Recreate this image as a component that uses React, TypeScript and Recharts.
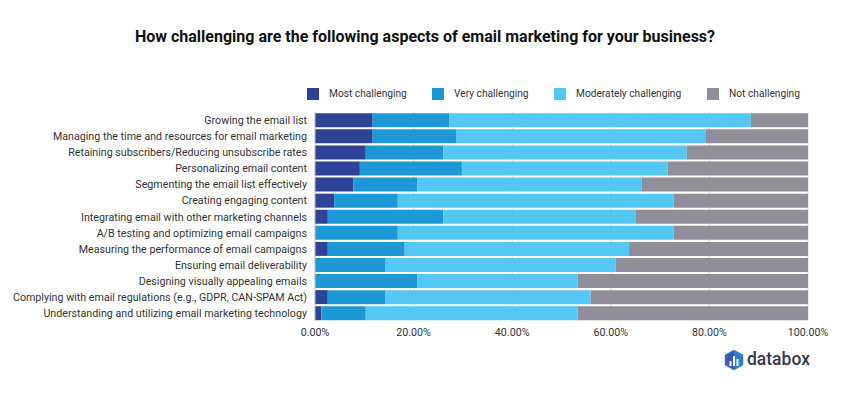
import { BarChart, Bar, XAxis, YAxis, CartesianGrid, Legend } from "recharts";

const categories = [
  "Growing the email list",
  "Managing the time and resources for email marketing",
  "Retaining subscribers/Reducing unsubscribe rates",
  "Personalizing email content",
  "Segmenting the email list effectively",
  "Creating engaging content",
  "Integrating email with other marketing channels",
  "A/B testing and optimizing email campaigns",
  "Measuring the performance of email campaigns",
  "Ensuring email deliverability",
  "Designing visually appealing emails",
  "Complying with email regulations (e.g., GDPR, CAN-SPAM Act)",
  "Understanding and utilizing email marketing technology",
];

const most = [11.7, 11.7, 10.3, 9.1, 7.8, 3.9, 2.6, 0, 2.6, 0, 0, 2.6, 1.3];
const very = [15.5, 16.9, 15.7, 20.7, 12.9, 12.9, 23.4, 16.8, 15.6, 14.2, 20.7, 11.6, 9.0];
const moderate = [61.2, 50.7, 49.4, 41.7, 45.6, 56.0, 39.1, 56.0, 45.5, 46.8, 32.6, 41.7, 43.0];
const notChallenging = [11.6, 20.7, 24.6, 28.5, 33.7, 27.2, 34.9, 27.2, 36.3, 39.0, 46.7, 44.1, 46.7];

const xTicks = [0, 20, 40, 60, 80, 100];

const seriesNames = ["Most challenging", "Very challenging", "Moderately challenging", "Not challenging"];
const seriesKeys = ["most", "very", "moderate", "notChallenging"];
const seriesColors = ["#2E4396", "#1C98D6", "#53C8F5", "#8E8F9B"];

const data = categories.map((name, i) => ({
  name,
  most: most[i],
  very: very[i],
  moderate: moderate[i],
  notChallenging: notChallenging[i],
}));

const FONT = "Roboto, sans-serif";

function ChartLegend() {
  const lefts = [0, 125, 247, 400];
  return (
    <div style={{ position: "relative", height: 14, fontFamily: FONT, fontSize: 10.2, color: "#333" }}>
      {seriesNames.map((name, i) => (
        <div key={name} style={{ position: "absolute", left: lefts[i], top: 0, whiteSpace: "nowrap" }}>
          <span style={{ position: "absolute", left: 0, top: 1, width: 12, height: 12, background: seriesColors[i] }} />
          <span style={{ position: "absolute", left: 22, top: 0, lineHeight: "14px" }}>{name}</span>
        </div>
      ))}
    </div>
  );
}

// plain text tick, the default one wraps the long names
function CategoryTick({ x, y, payload }: any) {
  return (
    <text x={x} y={y} dy={4} textAnchor="end" fontFamily={FONT} fontSize={10.7} fill="#333">
      {payload.value}
    </text>
  );
}

function Logo() {
  return (
    <g>
      <path d="M734 351 L742 355.5 V364.5 L734 369 L726 364.5 V355.5 Z" fill="#2A7FC9" stroke="#2A7FC9" strokeWidth={2.5} strokeLinejoin="round" />
      <path d="M734 351 L726 355.5 V364.5 L734 369 Z" fill="#3F55B0" />
      <rect x={729.5} y={361} width={2} height={5} fill="#fff" />
      <rect x={733} y={356} width={2} height={10} fill="#fff" />
      <rect x={736.5} y={359} width={2} height={7} fill="#fff" />
      <text x={747} y={365} fontFamily={FONT} fontSize={17.5} fontWeight={500} fill="#33384A">
        databox
      </text>
    </g>
  );
}

export default function App() {
  return (
    <div style={{ position: "absolute", left: 0, top: 0, width: 850, height: 400, background: "#fff" }}>
      <BarChart
        width={850}
        height={400}
        data={data}
        layout="vertical"
        margin={{ top: 112, right: 42, bottom: 35, left: 0 }}
        barCategoryGap="8%"
      >
        <text x={425} y={42} textAnchor="middle" fontFamily={FONT} fontSize={16} fontWeight={700} fill="#111">
          How challenging are the following aspects of email marketing for your business?
        </text>
        <CartesianGrid horizontal={false} stroke="#dcdcdc" />
        <XAxis
          type="number"
          domain={[0, 100]}
          ticks={xTicks}
          tickFormatter={(v: number) => `${v.toFixed(2)}%`}
          axisLine={false}
          tickLine={false}
          height={30}
          tickMargin={1}
          tick={{ fontFamily: FONT, fontSize: 10.7, fill: "#333" }}
        />
        <YAxis
          type="category"
          dataKey="name"
          width={315}
          interval={0}
          axisLine={{ stroke: "#c4c4c4" }}
          tickLine={false}
          tickMargin={2}
          tick={CategoryTick}
        />
        <Legend content={<ChartLegend />} wrapperStyle={{ position: "absolute", left: 307, top: 87, width: 520, height: 14 }} />
        {seriesKeys.map((key, i) => (
          <Bar key={key} dataKey={key} name={seriesNames[i]} stackId="a" fill={seriesColors[i]} isAnimationActive={false} />
        ))}
        <Logo />
      </BarChart>
    </div>
  );
}
